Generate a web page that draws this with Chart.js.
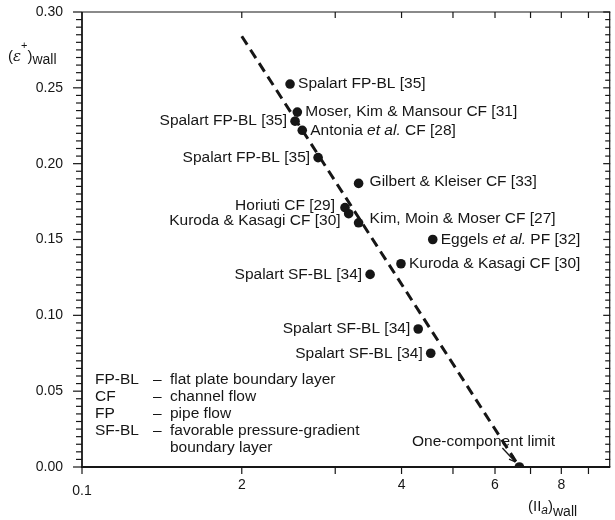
<!DOCTYPE html>
<html>
<head>
<meta charset="utf-8">
<script src="https://cdn.jsdelivr.net/npm/chart.js@4.4.0/dist/chart.umd.min.js"></script>
<style>
html, body { margin: 0; padding: 0; background: #fff; }
#myChart { display: block; }
</style>
</head>
<body>
<canvas id="myChart" width="615" height="520"></canvas>
<script>
// measured points, (II_a)wall vs (eps+)wall
var pointX = [2.466, 2.545, 2.52, 2.60, 2.785, 3.32, 3.13, 3.18, 3.32, 4.58, 3.99, 3.49, 4.30, 4.54, 6.67];
var pointY = [0.2525, 0.234, 0.228, 0.222, 0.204, 0.187, 0.171, 0.167, 0.161, 0.150, 0.134, 0.127, 0.091, 0.075, 0.0];
var pointLabels = ['Spalart FP-BL [35]', 'Moser, Kim & Mansour CF [31]', 'Spalart FP-BL [35]',
    'Antonia *et al.* CF [28]', 'Spalart FP-BL [35]', 'Gilbert & Kleiser CF [33]', 'Horiuti CF [29]',
    'Kuroda & Kasagi CF [30]', 'Kim, Moin & Moser CF [27]', 'Eggels *et al.* PF [32]',
    'Kuroda & Kasagi CF [30]', 'Spalart SF-BL [34]', 'Spalart SF-BL [34]', 'Spalart SF-BL [34]', ''];

// dashed fit line
var fitX = [2.0, 6.67];
var fitY = [0.284, 0.0];

var xTickValues = [1, 2, 3, 4, 5, 6, 7, 8, 9];
var xTickLabels = ['0.1', '2', '', '4', '', '6', '', '8', ''];

var abbrevs = ['FP-BL', 'CF', 'FP', 'SF-BL', ''];
var abbrevText = ['flat plate boundary layer', 'channel flow', 'pipe flow', 'favorable pressure-gradient', 'boundary layer'];

// which side of the dot each label sits on, and small nudges
var labelSide = ['r', 'r', 'l', 'r', 'l', 'r', 'l', 'l', 'r', 'r', 'r', 'l', 'l', 'l', ''];
var labelNudge = { 5: [3, -2], 6: [2, -2], 7: [0, 7], 8: [3, -4] };

var FONT = '"Liberation Sans", Arial, sans-serif';
var INK = '#161616';

function drawRich(ctx, text, x, y, align, size) {
    var parts = text.split('*');
    var fonts = parts.map(function(p, i) { return (i % 2 ? 'italic ' : '') + size + 'px ' + FONT; });
    var widths = parts.map(function(p, i) { ctx.font = fonts[i]; return ctx.measureText(p).width; });
    var total = widths.reduce(function(a, b) { return a + b; }, 0);
    var cx = align === 'right' ? x - total : x;
    ctx.textAlign = 'left';
    ctx.textBaseline = 'middle';
    parts.forEach(function(p, i) {
        ctx.font = fonts[i];
        ctx.fillText(p, cx, y);
        cx += widths[i];
    });
}

function seg(ctx, x1, y1, x2, y2) {
    ctx.beginPath();
    ctx.moveTo(x1, y1);
    ctx.lineTo(x2, y2);
    ctx.stroke();
}

var framePlugin = {
    id: 'frame',
    afterDraw: function(chart) {
        var ctx = chart.ctx, a = chart.chartArea;
        var xs = chart.scales.x, ys = chart.scales.y;
        ctx.save();
        ctx.strokeStyle = INK;
        ctx.fillStyle = INK;

        // frame
        ctx.lineWidth = 1.8;
        seg(ctx, a.left, a.top, a.left, a.bottom);
        seg(ctx, a.left - 1, a.bottom, a.right, a.bottom);
        ctx.lineWidth = 1.2;
        seg(ctx, a.left, a.top, a.right, a.top);
        seg(ctx, a.right - 0.5, a.top, a.right - 0.5, a.bottom);

        // y ticks left (out) and right (in)
        ctx.lineWidth = 1.2;
        for (var i = 0; i <= 60; i++) {
            var py = ys.getPixelForValue(i * 0.005);
            var major = i % 10 === 0;
            seg(ctx, a.left - (major ? 9 : 6), py, a.left, py);
            seg(ctx, a.right - (major ? 7 : 5), py, a.right, py);
        }
        // x ticks bottom (out) and top (in)
        xTickValues.forEach(function(v) {
            var px = xs.getPixelForValue(v);
            seg(ctx, px, a.bottom, px, a.bottom + 7);
            if (v > 1) seg(ctx, px, a.top, px, a.top + 6);
        });

        // point labels
        var meta = chart.getDatasetMeta(1);
        meta.data.forEach(function(el, i) {
            if (!pointLabels[i]) return;
            var n = labelNudge[i] || [0, 0];
            var right = labelSide[i] === 'r';
            var tx = right ? el.x + 8 + n[0] : el.x - 8 - n[0];
            drawRich(ctx, pointLabels[i], tx, el.y + n[1], right ? 'left' : 'right', 15.5);
        });

        // abbreviation key
        var rows = [380, 397, 414, 431, 448];
        rows.forEach(function(ry, i) {
            drawRich(ctx, abbrevs[i], 95, ry, 'left', 15.5);
            if (abbrevs[i]) drawRich(ctx, '\u2013', 153, ry, 'left', 15.5);
            drawRich(ctx, abbrevText[i], 170, ry, 'left', 15.5);
        });

        // one-component limit annotation
        var last = meta.data[meta.data.length - 1];
        drawRich(ctx, 'One-component limit', 412, 442, 'left', 15.5);
        ctx.lineWidth = 1.3;
        var ex = last.x - 4, ey = last.y - 5, sx = last.x - 17, sy = last.y - 19;
        seg(ctx, sx, sy, ex, ey);
        var ang = Math.atan2(ey - sy, ex - sx);
        ctx.beginPath();
        ctx.moveTo(ex, ey);
        ctx.lineTo(ex - 7 * Math.cos(ang - 0.4), ey - 7 * Math.sin(ang - 0.4));
        ctx.moveTo(ex, ey);
        ctx.lineTo(ex - 7 * Math.cos(ang + 0.4), ey - 7 * Math.sin(ang + 0.4));
        ctx.stroke();

        // axis titles
        ctx.textBaseline = 'alphabetic';
        ctx.textAlign = 'left';
        var tx = 8;
        ctx.font = '15px ' + FONT; ctx.fillText('(', tx, 61); tx += ctx.measureText('(').width;
        ctx.font = 'italic 15px "DejaVu Serif", serif'; ctx.fillText('\u03b5', tx, 61);
        tx += ctx.measureText('\u03b5').width;
        ctx.font = '11px ' + FONT; ctx.fillText('+', tx, 49); tx += ctx.measureText('+').width;
        ctx.font = '15px ' + FONT; ctx.fillText(')', tx, 61); tx += ctx.measureText(')').width;
        ctx.font = '14px ' + FONT; ctx.fillText('wall', tx, 64);

        tx = 528;
        ctx.font = '15px ' + FONT; ctx.fillText('(II', tx, 511); tx += ctx.measureText('(II').width;
        ctx.font = 'italic 12px ' + FONT; ctx.fillText('a', tx, 514); tx += ctx.measureText('a').width;
        ctx.font = '15px ' + FONT; ctx.fillText(')', tx, 511); tx += ctx.measureText(')').width;
        ctx.font = '14px ' + FONT; ctx.fillText('wall', tx, 516);
        ctx.restore();
    }
};

var chartConfig = {
    type: 'scatter',
    data: {
        datasets: [{
            type: 'line',
            data: fitX.map(function(x, i) { return { x: x, y: fitY[i] }; }),
            borderColor: INK,
            borderWidth: 3,
            borderDash: [10, 6],
            pointRadius: 0,
            fill: false
        }, {
            data: pointX.map(function(x, i) { return { x: x, y: pointY[i] }; }),
            backgroundColor: INK,
            borderWidth: 0,
            pointRadius: 4.8
        }]
    },
    options: {
        responsive: false,
        animation: false,
        layout: { padding: { top: 12, right: 1, left: 0, bottom: 0 } },
        plugins: { legend: { display: false }, tooltip: { enabled: false } },
        scales: {
            x: {
                type: 'logarithmic',
                min: 1,
                max: 9.89,
                afterBuildTicks: function(s) { s.ticks = xTickValues.map(function(v) { return { value: v }; }); },
                afterFit: function(s) {
                    s.height = 53;
                    s.paddingLeft = 0; s.paddingRight = 0;
                },
                grid: { display: false, drawTicks: false },
                border: { display: false },
                ticks: {
                    autoSkip: false,
                    maxRotation: 0,
                    padding: 10,
                    color: INK,
                    font: function(c) {
                        return { family: FONT, size: 14, lineHeight: c.index === 0 ? 2.0 : 1.2 };
                    },
                    callback: function(v) { return xTickLabels[xTickValues.indexOf(v)]; }
                }
            },
            y: {
                min: 0,
                max: 0.3,
                afterFit: function(s) {
                    s.width = 82;
                    s.paddingTop = 0; s.paddingBottom = 0;
                },
                grid: { display: false, drawTicks: false },
                border: { display: false },
                ticks: {
                    stepSize: 0.05,
                    padding: 19,
                    color: INK,
                    font: { family: FONT, size: 14 },
                    callback: function(v) { return v.toFixed(2); }
                }
            }
        }
    },
    plugins: [framePlugin]
};

var ctx = document.getElementById('myChart').getContext('2d');
window.myChart = new Chart(ctx, chartConfig);
</script>
</body>
</html>
